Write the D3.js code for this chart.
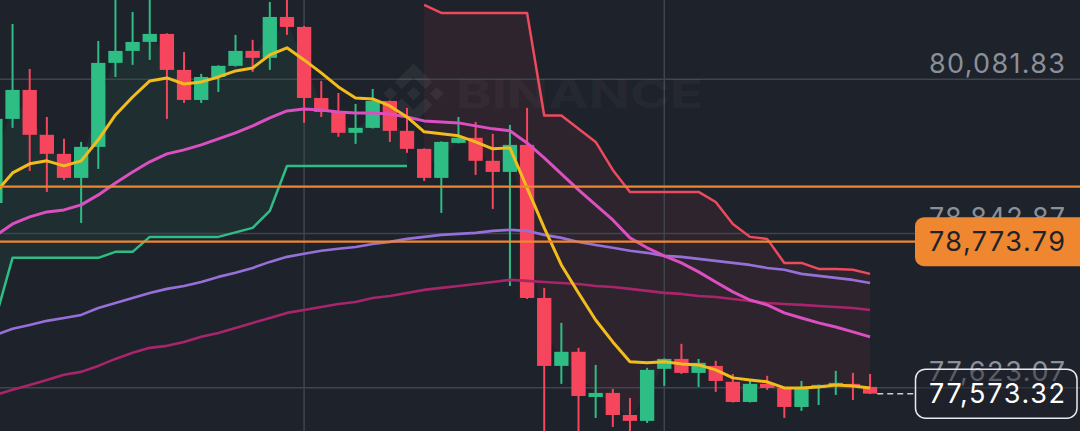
<!DOCTYPE html>
<html><head><meta charset="utf-8">
<script src="https://cdn.jsdelivr.net/npm/d3@7"></script>
<style>html,body{margin:0;padding:0;background:#1e222a;overflow:hidden}svg{display:block}</style>
</head><body><svg id="c" width="1080" height="431"></svg>
<script>
// ---------- data ----------
const candleIdx = [0,1,2,3,4,5,6,7,8,9,10,11,12,13,14,15,16,17,18,19,20,21,22,23,24,25,26,27,28,29,30,31,32,33,34,35,36,37,38,39,40,41,42,43,44,45,46,47,48,49,50,51];
const opens  = [79082,79757,79991,79629,79476,79283,79532,80210,80307,80380,80445,80153,79910,80096,80186,80307,80251,80583,80502,79926,79813,79645,79685,79902,79661,79516,79283,79564,79605,79420,79331,79548,78327,77791,77902,77547,77579,77406,77360,77768,77846,77736,77791,77666,77508,77650,77618,77469,77618,77634,77650,77626];
const highs  = [79829,80526,80161,79773,79597,79572,80388,80786,80624,80786,80450,80299,80121,80190,80437,80397,80705,80786,80510,80064,79966,79878,79999,79905,79846,79520,79576,79773,79733,79637,79709,79846,78407,78130,77933,77799,77610,77539,77776,77850,77965,77846,77831,77728,77681,77713,77622,77673,77645,77752,77736,77728];
const lows   = [79011,79685,79339,79171,79267,78923,79355,80096,80194,80234,79757,79886,79886,79975,80180,80137,80153,80437,79725,79773,79613,79556,79680,79572,79484,79259,79003,79560,79307,79035,78422,78319,77172,77650,77172,77383,77313,77211,77344,77634,77728,77626,77587,77504,77504,77603,77383,77438,77484,77563,77524,77570];
const closes = [79757,79991,79629,79476,79283,79532,80210,80307,80380,80445,80153,79910,80096,80186,80307,80251,80583,80502,79926,79813,79645,79685,79902,79661,79516,79283,79572,79605,79420,79331,79548,78327,77791,77902,77555,77579,77406,77360,77760,77846,77736,77815,77673,77508,77650,77618,77469,77618,77642,77658,77626,77573.32];

const maFast = [79163,79323,79396,79420,79379,79420,79589,79789,79934,80064,80088,80039,80056,80096,80145,80169,80275,80332,80234,80129,80015,79926,79918,79862,79773,79653,79637,79621,79572,79516,79524,79203,78884,78589,78367,78153,77980,77823,77815,77823,77807,77799,77760,77697,77681,77666,77618,77618,77626,77642,77634,77618];
const maMid  = [78820,78915,78971,79011,79027,79067,79147,79243,79331,79412,79476,79508,79548,79597,79645,79701,79765,79821,79837,79829,79813,79805,79805,79797,79773,79741,79733,79725,79701,79677,79661,79564,79444,79315,79187,79067,78947,78804,78725,78661,78605,78534,78454,78375,78311,78272,78209,78169,78130,78098,78059,78020];
const maSlow = [78035,78083,78114,78146,78169,78193,78248,78287,78327,78367,78399,78422,78454,78494,78526,78565,78613,78653,78677,78701,78717,78732,78756,78772,78796,78812,78828,78836,78844,78860,78868,78860,78828,78804,78772,78748,78725,78701,78685,78661,78653,78637,78621,78605,78589,78565,78550,78518,78502,78486,78470,78446];
const maLong = [77563,77603,77642,77681,77721,77744,77791,77846,77894,77933,77949,77980,78020,78051,78090,78130,78169,78209,78232,78256,78279,78295,78327,78343,78367,78391,78407,78422,78438,78454,78470,78462,78454,78446,78438,78422,78414,78399,78383,78367,78359,78343,78335,78319,78303,78287,78279,78272,78264,78256,78248,78232];

const stUp   = [78161,78645,78645,78645,78645,78645,78645,78693,78693,78812,78812,78812,78812,78812,78848,78884,79019,79379,79379,79379,79379,79379,79379,79379,79379,null,null,null,null,null,null,null,null,null,null,null,null,null,null,null,null,null,null,null,null,null,null,null,null,null,null,null];
const stDown = [null,null,null,null,null,null,null,null,null,null,null,null,null,null,null,null,null,null,null,null,null,null,null,null,null,80681,80616,80616,80616,80616,80616,80616,79785,79785,79677,79572,79347,79171,79171,79171,79171,79171,79090,78915,78812,78796,78605,78605,78557,78557,78550,78518];

const priceTicks = [77623.07, 78842.87, 80081.83];
const timeGridIdx = [18, 39];
const orderLines = [79213, 78773.79];
const orderLabel = 78773.79;
const lastPrice = 77573.32;

// ---------- setup ----------
const W = 1080, H = 431;
const svg = d3.select("#c");
const BG = "#1e222a";
const UP = "#2ebd85", DOWN = "#f6465d";
const FONT = "Inter, 'Noto Sans', sans-serif";
const TXT_W = 136;

const x = d3.scaleBand().domain(candleIdx).range([-20.33, 885.8]).paddingInner(0.166).paddingOuter(0.5);
const bw = x.bandwidth();
const cx = i => x(i) + bw / 2;
const y = d3.scaleLog().domain([77623.07, 80081.83]).range([387.3, 78.7]);
const fmt = d3.format(",.2f");

svg.append("rect").attr("width", W).attr("height", H).attr("fill", BG);

// supertrend fills (between band and body middle)
const mid = i => (opens[i] + closes[i]) / 2;
const upArea = d3.area().defined(i => stUp[i] != null).x(cx).y0(i => y(stUp[i])).y1(i => y(mid(i)));
const dnArea = d3.area().defined(i => stDown[i] != null).x(cx).y0(i => y(stDown[i])).y1(i => y(mid(i)));
svg.append("path").attr("d", upArea(candleIdx)).attr("fill", "rgba(46,189,133,0.08)");
svg.append("path").attr("d", dnArea(candleIdx)).attr("fill", "rgba(246,70,93,0.08)");

// horizontal grid from the price axis
const gridG = svg.append("g").attr("transform", `translate(${W},0)`)
  .call(d3.axisLeft(y).tickValues(priceTicks).tickSize(W).tickFormat(""));
gridG.select(".domain").remove();
gridG.selectAll("line").attr("stroke", "#3f444d").attr("stroke-width", 1.5);
gridG.selectAll("text").remove();

// vertical grid
svg.append("g").selectAll("line").data(timeGridIdx).join("line")
  .attr("x1", cx).attr("x2", cx).attr("y1", 0).attr("y2", H)
  .attr("stroke", "#3f444d").attr("stroke-width", 1.5);

// watermark
const wm = svg.append("g").attr("fill", "#ffffff").attr("fill-opacity", 0.055);
wm.append("path").attr("transform", "translate(383.5,63.5) scale(0.48)")
  .attr("d", "M38.171 53.203L62.759 28.616l24.6 24.6 14.306-14.307L62.759 0 23.864 38.896zM0 62.759l14.307-14.307 14.306 14.307-14.306 14.306zM38.171 72.315l24.588 24.588 24.6-24.6 14.307 14.3-38.907 38.907-38.895-38.895-.02-.02zM96.905 62.765l14.307-14.307 14.306 14.307-14.306 14.306zM77.271 62.75L62.759 48.233 48.256 62.734 62.759 77.253z");
wm.append("text").attr("x", 456).attr("y", 108).attr("font-family", FONT)
  .attr("font-weight", 700).attr("font-size", 39).attr("textLength", 247).attr("lengthAdjust", "spacingAndGlyphs").text("BINANCE");

// supertrend lines
svg.append("path").attr("d", d3.line().defined(i => stUp[i] != null).x(cx).y(i => y(stUp[i]))(candleIdx))
  .attr("fill", "none").attr("stroke", UP).attr("stroke-width", 2.5).attr("stroke-linejoin", "round");
svg.append("path").attr("d", d3.line().defined(i => stDown[i] != null).x(cx).y(i => y(stDown[i]))(candleIdx))
  .attr("fill", "none").attr("stroke", "#ee4a5e").attr("stroke-width", 2.5).attr("stroke-linejoin", "round");

// candles
const cg = svg.append("g");
cg.selectAll("line").data(candleIdx).join("line")
  .attr("x1", cx).attr("x2", cx).attr("y1", i => y(highs[i])).attr("y2", i => y(lows[i]))
  .attr("stroke", i => closes[i] >= opens[i] ? UP : DOWN).attr("stroke-width", 2);
cg.selectAll("rect").data(candleIdx).join("rect")
  .attr("x", i => x(i)).attr("width", bw)
  .attr("y", i => y(Math.max(opens[i], closes[i])))
  .attr("height", i => Math.max(1.5, y(Math.min(opens[i], closes[i])) - y(Math.max(opens[i], closes[i]))))
  .attr("fill", i => closes[i] >= opens[i] ? UP : DOWN);

// moving averages
const maDefs = [[maLong, "#a8256c", 2.6], [maSlow, "#9670d8", 2.6], [maMid, "#dc4fc1", 3], [maFast, "#f2bd1c", 3]];
maDefs.forEach(([arr, col, w]) => {
  svg.append("path").attr("d", d3.line().x(cx).y(i => y(arr[i]))(candleIdx))
    .attr("fill", "none").attr("stroke", col).attr("stroke-width", w).attr("stroke-linejoin", "round");
});

// order lines
svg.append("g").selectAll("line").data(orderLines).join("line")
  .attr("x1", 0).attr("x2", W).attr("y1", d => y(d)).attr("y2", d => y(d))
  .attr("stroke", "#ef8630").attr("stroke-width", 2.2);

// price labels (axis)
svg.append("g").selectAll("text").data(priceTicks).join("text")
  .attr("x", 1065).attr("y", d => y(d) - 6).attr("text-anchor", "end")
  .attr("fill", "#8a9099").attr("font-family", FONT).attr("font-size", 27)
  .attr("textLength", TXT_W).attr("lengthAdjust", "spacing")
  .text(fmt);

// last price dashed line + box
const lp = y(lastPrice);
svg.append("line").attr("x1", cx(51) + bw / 2).attr("x2", 915).attr("y1", lp).attr("y2", lp)
  .attr("stroke", "#c9cdd3").attr("stroke-width", 1.5).attr("stroke-dasharray", "6,4");
svg.append("rect").attr("x", 915.5).attr("y", lp - 24.5).attr("width", 161.5).attr("height", 49).attr("rx", 10)
  .attr("fill", "rgba(30,34,42,0.45)").attr("stroke", "#e8eaed").attr("stroke-width", 1.5);
svg.append("text").attr("x", 1065).attr("y", lp).attr("dy", "0.36em").attr("text-anchor", "end")
  .attr("fill", "#ffffff").attr("font-family", FONT).attr("font-size", 27)
  .attr("textLength", TXT_W).attr("lengthAdjust", "spacing").text(fmt(lastPrice));

// order label
const ol = y(orderLabel);
svg.append("rect").attr("x", 915).attr("y", ol - 24.5).attr("width", 175).attr("height", 49).attr("rx", 9)
  .attr("fill", "#ef8630");
svg.append("text").attr("x", 1065).attr("y", ol).attr("dy", "0.36em").attr("text-anchor", "end")
  .attr("fill", "#1e2329").attr("font-family", FONT).attr("font-size", 27)
  .attr("textLength", TXT_W).attr("lengthAdjust", "spacing").text(fmt(orderLabel));
</script></body></html>
